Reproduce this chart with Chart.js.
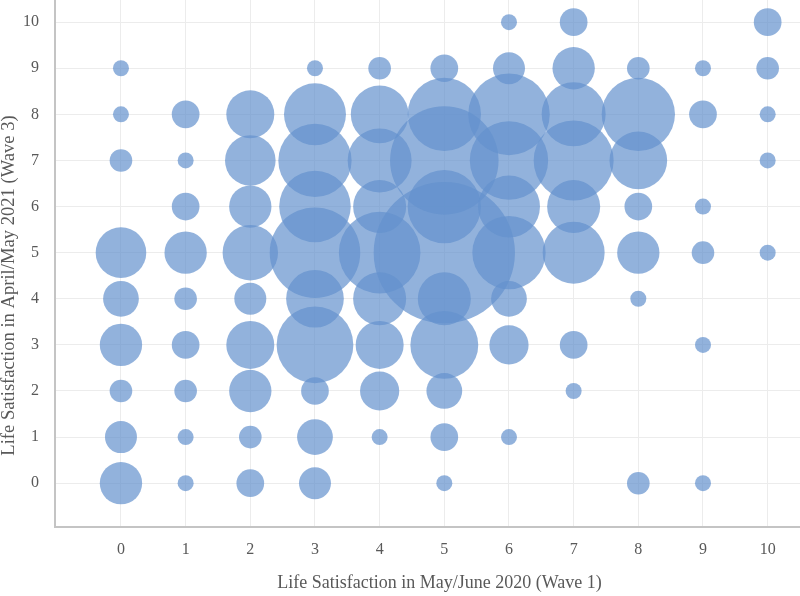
<!DOCTYPE html>
<html>
<head>
<meta charset="utf-8">
<script src="https://cdn.jsdelivr.net/npm/chart.js@4/dist/chart.umd.min.js"></script>
<style>
  body{margin:0;background:#fff;}
  #wrap{width:800px;height:596px;}
</style>
</head>
<body>
<div id="wrap"><canvas id="chart" width="800" height="596"></canvas></div>
<script>
// Life satisfaction, wave 1 (x) vs wave 3 (y); bubble size = number of respondents
const wave1Scores = [0,1,2,3,4,5,6,7,8,9,10];
const wave3Scores = [0,1,2,3,4,5,6,7,8,9,10];
const xTickLabels = ['0','1','2','3','4','5','6','7','8','9','10'];
const yTickLabels = ['0','1','2','3','4','5','6','7','8','9','10'];
const xTitle = 'Life Satisfaction in May/June 2020 (Wave 1)';
const yTitle = 'Life Satisfaction in April/May 2021 (Wave 3)';

// counts[i][j] = respondents with wave1 = wave1Scores[i] and wave3 = wave3Scores[j] (estimated)
const countsWave1_0  = [7,4,2,7,5,10,0,2,1,1,0];
const countsWave1_1  = [1,1,2,3,2,7,3,1,3,0,0];
const countsWave1_2  = [3,2,7,9,4,12,7,10,9,0,0];
const countsWave1_3  = [4,5,3,23,13,32,20,21,15,1,0];
const countsWave1_4  = [0,1,6,9,11,26,11,16,13,2,0];
const countsWave1_5  = [1,3,5,18,11,78,21,46,21,3,0];
const countsWave1_6  = [0,1,0,6,5,21,15,24,26,4,1];
const countsWave1_7  = [0,0,1,3,0,15,11,25,16,7,3];
const countsWave1_8  = [2,0,0,0,1,7,3,13,21,2,0];
const countsWave1_9  = [1,0,0,1,0,2,1,0,3,1,0];
const countsWave1_10 = [0,0,0,0,0,1,0,1,1,2,3];

const counts = [countsWave1_0,countsWave1_1,countsWave1_2,countsWave1_3,countsWave1_4,countsWave1_5,
                countsWave1_6,countsWave1_7,countsWave1_8,countsWave1_9,countsWave1_10];

const RADIUS_UNIT = 8; // px radius for a single respondent

const points = [];
wave1Scores.forEach((xv,i)=>{
  wave3Scores.forEach((yv,j)=>{
    const n = counts[i][j];
    if(n>0) points.push({x:xv, y:yv, r:RADIUS_UNIT*Math.sqrt(n), n:n});
  });
});

const FONT = "'Liberation Serif', 'Times New Roman', serif";
const tickColor = '#595959';

// axis titles drawn by hand: the original centres them a bit off the plot middle
const axisTitles = {
  id:'axisTitles',
  afterDraw(chart){
    const ctx = chart.ctx, area = chart.chartArea;
    ctx.save();
    ctx.fillStyle = tickColor;
    ctx.textAlign = 'center';
    ctx.textBaseline = 'middle';
    ctx.font = '18px ' + FONT;
    ctx.fillText(xTitle, (area.left+area.right)/2 + 12, chart.height - 13);
    ctx.translate(9, (area.top+area.bottom)/2 + 22);
    ctx.rotate(-Math.PI/2);
    ctx.font = '18.6px ' + FONT;
    ctx.fillText(yTitle, 0, 0);
    ctx.restore();
  }
};

new Chart(document.getElementById('chart').getContext('2d'),{
  type:'bubble',
  data:{datasets:[{
    data:points,
    backgroundColor:'rgba(100,145,205,0.7)',
    borderWidth:0,
    hoverBorderWidth:0
  }]},
  plugins:[axisTitles],
  options:{
    responsive:false,
    animation:false,
    layout:{padding:0,autoPadding:false},
    plugins:{legend:{display:false},tooltip:{enabled:false}},
    scales:{
      x:{
        type:'linear',
        min:-1.02, max:10.5,
        afterBuildTicks:s=>{ s.ticks = wave1Scores.map(v=>({value:v})); },
        afterFit:s=>{ s.height = 69; s.paddingLeft = 0; s.paddingRight = 0; },
        grid:{color:'#ececec',lineWidth:1,drawTicks:false},
        border:{color:'#c4c4c4',width:2},
        ticks:{padding:13,color:tickColor,font:{family:FONT,size:16},
               callback:(v,idx)=>xTickLabels[idx]},
        title:{display:false}
      },
      y:{
        type:'linear',
        min:-0.95, max:10.48,
        afterBuildTicks:s=>{ s.ticks = wave3Scores.map(v=>({value:v})); },
        afterFit:s=>{ s.width = 55; s.paddingTop = 0; s.paddingBottom = 0; },
        grid:{color:'#ececec',lineWidth:1,drawTicks:false},
        border:{color:'#c4c4c4',width:2},
        ticks:{padding:16,color:tickColor,font:{family:FONT,size:16},
               callback:(v,idx)=>yTickLabels[idx]},
        title:{display:false}
      }
    }
  }
});
</script>
</body>
</html>
